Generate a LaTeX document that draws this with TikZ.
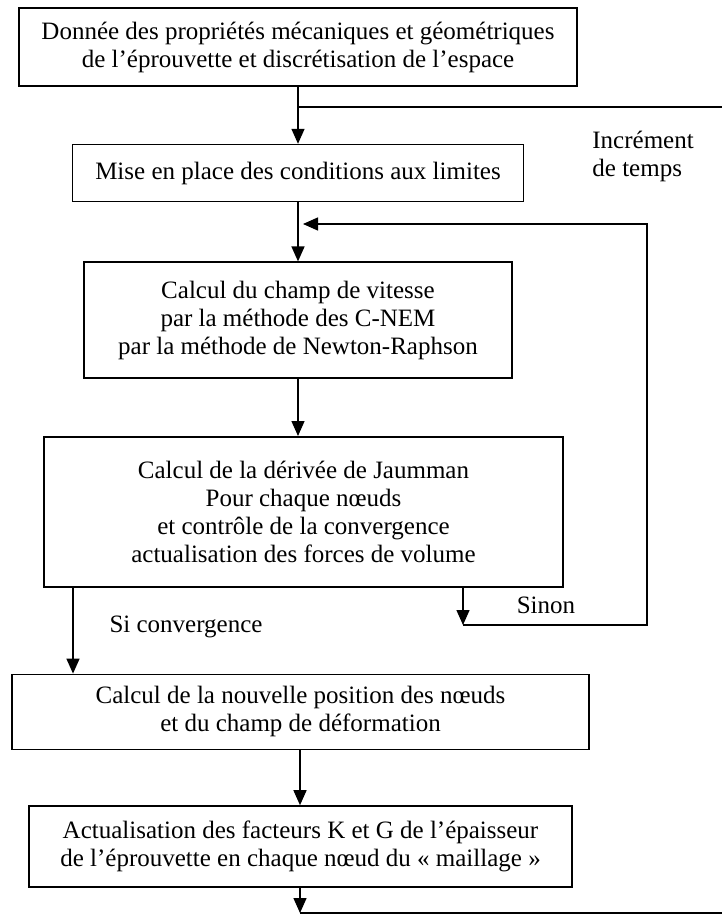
\documentclass[tikz,border=0pt]{standalone}
\usepackage{fontspec}
\setmainfont{Liberation Serif}
\usetikzlibrary{arrows.meta,positioning}
\tikzset{
  box/.style={rectangle, draw, line width=0.8pt, align=center, font=\fontsize{12.5}{14}\selectfont, inner sep=2pt},
  lbl/.style={font=\fontsize{12.5}{14}\selectfont, inner sep=1pt},
  arr/.style={-{Triangle[length=7.5pt,width=6.5pt]}, line width=0.7pt},
  wire/.style={line width=0.7pt}
}

\begin{document}
\begin{tikzpicture}[x=0.5pt, y=-0.5pt, node distance=28.5pt]
\useasboundingbox (0,0) rectangle (722,914);
\node[box, minimum width=279pt, minimum height=39pt] (donnee) at (298,47) {Donnée des propriétés mécaniques et géométriques\\de l'éprouvette et discrétisation de l'espace};
\node[box, below=28.5pt of donnee, minimum width=225.5pt, minimum height=28.5pt] (limites) {Mise en place des conditions aux limites};
\node[box, below=29.5pt of limites, minimum width=214pt, minimum height=58pt] (vitesse) {Calcul du champ de vitesse\\par la méthode des C-NEM\\par la méthode de Newton-Raphson};
\node[box, below=28.5pt of vitesse, xshift=2.75pt, minimum width=259.5pt, minimum height=75pt] (jaumann) {Calcul de la dérivée de Jaumman\\Pour chaque nœuds\\et contrôle de la convergence\\actualisation des forces de volume};
\node[box, below=43pt of jaumann, xshift=-1.5pt, minimum width=288.5pt, minimum height=37.5pt] (position) {Calcul de la nouvelle position des nœuds\\et du champ de déformation};
\node[box, below=27.5pt of position, minimum width=271.5pt, minimum height=40.5pt] (facteurs) {Actualisation des facteurs K et G de l'épaisseur\\de l'éprouvette en chaque nœud du « maillage »};

% labels
\node[lbl, anchor=west, align=left] (increment) at (590,156) {Incrément\\de temps};
\node[lbl] (sinonlbl) at (546,605) {Sinon};
\node[lbl] (cvglbl) at (186,627) {Si convergence};

% points of the loops
\coordinate (incr) at (298,107);
\coordinate (incrR) at (722,107);
\coordinate (retour) at (647,224);
\coordinate (retourT) at (303,224);
\coordinate (sinon) at (463,625);
\coordinate (sinonR) at (647,625);
\coordinate (cvg) at (73,600);
\coordinate (fin) at (300,913);
\coordinate (finR) at (722,913);

\draw[arr] (donnee.south -| incr) -- (limites.north -| incr);
\draw[wire] (incr) -- (incrR);
\draw[arr] (limites.south -| incr) -- (vitesse.north -| incr);
\draw[arr] (vitesse.south -| incr) -- (jaumann.north -| incr);
\draw[arr] (jaumann.south -| sinon) -- (sinon);
\draw[arr] (sinon) -- (sinonR) -- (retour) -- (retourT);
\draw[arr] (jaumann.south -| cvg) -- (position.north -| cvg);
\draw[arr] (position.south -| fin) -- (facteurs.north -| fin);
\draw[arr] (facteurs.south -| fin) -- (fin);
\draw[wire] (fin) -- (finR);
\end{tikzpicture}
\end{document}
